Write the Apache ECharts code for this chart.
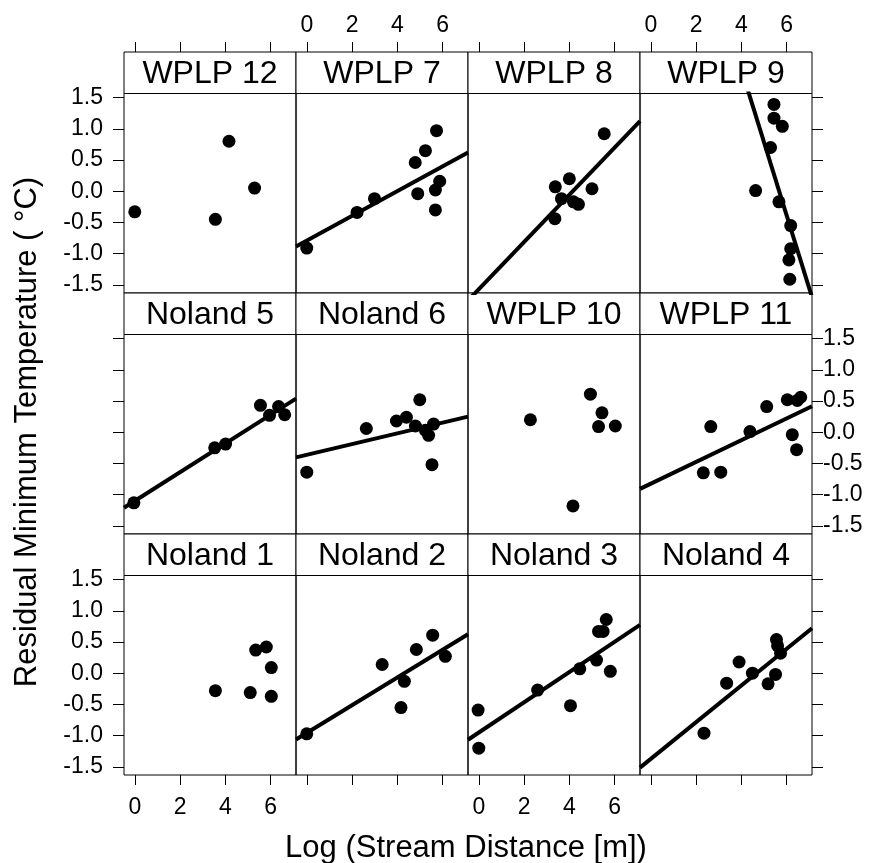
<!DOCTYPE html>
<html>
<head>
<meta charset="utf-8">
<script src="https://cdn.jsdelivr.net/npm/echarts@6/dist/echarts.min.js"></script>
<style>
  html, body { margin: 0; padding: 0; background: #fff; }
  #chart { width: 874px; height: 863px; }
</style>
</head>
<body>
<div id="chart"></div>
<script>
// panels in reading order (top row first)
const panelNames = ["WPLP 12", "WPLP 7", "WPLP 8", "WPLP 9",
	"Noland 5", "Noland 6", "WPLP 10", "WPLP 11",
	"Noland 1", "Noland 2", "Noland 3", "Noland 4"]

// [log stream distance, residual min temperature]
const wplp12 = [[0, -0.33], [3.56, -0.45], [4.16, 0.8], [5.29, 0.05]]
const wplp7 = [[0, -0.91], [2.22, -0.34], [2.99, -0.12], [4.79, 0.46], [5.24, 0.65],
	[4.9, -0.04], [5.73, 0.97], [5.87, 0.16], [5.68, 0.02], [5.68, -0.3]]
const wplp8 = [[5.54, 0.92], [4.0, 0.2], [3.38, 0.07], [5.0, 0.04], [3.65, -0.12],
	[4.18, -0.17], [4.4, -0.21], [3.36, -0.44]]
const wplp9 = [[5.44, 1.39], [5.44, 1.17], [5.81, 1.04], [5.29, 0.7], [4.63, 0.01],
	[5.66, -0.17], [6.18, -0.55], [6.18, -0.92], [6.1, -1.1], [6.14, -1.41]]
const noland5 = [[-0.04, -1.13], [3.53, -0.25], [4.01, -0.19], [5.55, 0.43],
	[5.95, 0.27], [6.35, 0.41], [6.62, 0.28]]
const noland6 = [[0, -0.64], [2.63, 0.06], [3.96, 0.18], [4.4, 0.24], [4.99, 0.52],
	[4.8, 0.1], [5.24, 0.03], [5.38, -0.05], [5.6, 0.13], [5.53, -0.52]]
const wplp10 = [[2.28, 0.2], [4.93, 0.61], [5.44, 0.31], [5.29, 0.09], [6.03, 0.1], [4.16, -1.18]]
const wplp11 = [[2.65, 0.09], [2.32, -0.65], [3.09, -0.64], [4.38, 0.01], [5.12, 0.41],
	[6.03, 0.52], [6.47, 0.51], [6.62, 0.56], [6.25, -0.04], [6.44, -0.28]]
const noland1 = [[3.56, -0.28], [5.1, -0.31], [5.34, 0.37], [5.81, 0.42], [6.03, 0.09], [6.03, -0.37]]
const noland2 = [[0, -0.97], [3.33, 0.14], [4.31, -0.13], [4.16, -0.55], [4.84, 0.38],
	[5.56, 0.61], [6.12, 0.27]]
const noland3 = [[-0.03, -0.59], [0, -1.2], [2.6, -0.27], [4.05, -0.52], [4.46, 0.07],
	[5.2, 0.21], [5.29, 0.67], [5.49, 0.67], [5.63, 0.86], [5.81, 0.03]]
const noland4 = [[2.35, -0.96], [3.35, -0.16], [3.9, 0.18], [4.49, 0.0], [5.18, -0.17],
	[5.51, -0.02], [5.55, 0.54], [5.6, 0.44], [5.73, 0.32]]

const panelPoints = [wplp12, wplp7, wplp8, wplp9, noland5, noland6, wplp10, wplp11,
	noland1, noland2, noland3, noland4]

// fitted lines, null where no line is drawn
const fitIntercept = [null, -0.79, -1.57, 6.64, -1.1, -0.362, null, -0.824, null, -0.957, -0.95, -1.372]
const fitSlope = [null, 0.198, 0.378, -1.171, 0.23, 0.086, null, 0.174, null, 0.222, 0.242, 0.294]

const xTicks = [0, 2, 4, 6]
const yTicks = [-1.5, -1.0, -0.5, 0.0, 0.5, 1.0, 1.5]
const xRange = [-0.476, 7.12]
const yRange = [-1.63, 1.565]

const font = "Liberation Sans"
const panelLeft = 124
const panelW = 172
const firstTop = 52
const stripH = 41.5
const plotH = 199.5
const rowH = stripH + plotH

const grids = []
const xAxes = []
const yAxes = []
const series = []
const graphics = []

panelNames.forEach((name, i) => {
	const row = Math.floor(i / 4)
	const col = i % 4
	const left = panelLeft + col * panelW
	const stripTop = firstTop + row * rowH
	grids.push({
		left: left,
		top: stripTop + stripH,
		width: panelW,
		height: plotH,
		show: true,
		borderColor: "#000",
		borderWidth: 1,
		backgroundColor: "transparent",
	})

	const isTop = row === 0
	const isBottom = row === 2
	const xLabels = (isTop && col % 2 === 1) || (isBottom && col % 2 === 0)
	xAxes.push({
		type: "value",
		gridIndex: i,
		min: xRange[0],
		max: xRange[1],
		show: isTop || isBottom,
		position: isTop ? "top" : "bottom",
		offset: isTop ? stripH : 0,
		splitLine: { show: false },
		axisLine: { show: false, onZero: false },
		axisTick: { show: true, length: 10, customValues: xTicks, lineStyle: { color: "#000", width: 1 } },
		axisLabel: {
			show: xLabels,
			customValues: xTicks,
			color: "#000",
			fontFamily: font,
			fontSize: 23,
			margin: isTop ? 15 : 21,
		},
	})

	const isLeft = col === 0
	const isRight = col === 3
	const yLabels = (isLeft && row !== 1) || (isRight && row === 1)
	yAxes.push({
		type: "value",
		gridIndex: i,
		min: yRange[0],
		max: yRange[1],
		show: isLeft || isRight,
		position: isRight ? "right" : "left",
		splitLine: { show: false },
		axisLine: { show: false, onZero: false },
		axisTick: { show: true, length: 11, customValues: yTicks, lineStyle: { color: "#000", width: 1 } },
		axisLabel: {
			show: yLabels,
			customValues: yTicks,
			color: "#000",
			fontFamily: font,
			fontSize: 23,
			margin: isRight ? 11 : 21,
			align: isRight ? "left" : "right",
			formatter: (v) => v.toFixed(1),
		},
	})

	series.push({
		type: "scatter",
		xAxisIndex: i,
		yAxisIndex: i,
		data: panelPoints[i],
		symbol: "circle",
		symbolSize: 13,
		itemStyle: { color: "#000", opacity: 1 },
		silent: true,
	})

	if (fitIntercept[i] !== null) {
		const a = fitIntercept[i]
		const b = fitSlope[i]
		series.push({
			type: "line",
			xAxisIndex: i,
			yAxisIndex: i,
			data: [[xRange[0], a + b * xRange[0]], [xRange[1], a + b * xRange[1]]],
			symbol: "none",
			clip: true,
			lineStyle: { color: "#000", width: 4 },
			silent: true,
		})
	}

	// strip with panel name
	graphics.push({
		type: "rect",
		shape: { x: left, y: stripTop, width: panelW, height: stripH },
		style: { fill: "#fff", stroke: "#000", lineWidth: 1 },
	})
	graphics.push({
		type: "text",
		x: left + panelW / 2,
		y: stripTop + stripH / 2 + 1,
		style: {
			text: name,
			fill: "#000",
			font: `32px "${font}"`,
			textAlign: "center",
			textVerticalAlign: "middle",
		},
	})
})

graphics.push({
	type: "text",
	x: 466,
	y: 848,
	style: {
		text: "Log (Stream Distance [m])",
		fill: "#000",
		font: `31px "${font}"`,
		textAlign: "center",
		textVerticalAlign: "middle",
	},
})
graphics.push({
	type: "text",
	x: 27,
	y: 432,
	rotation: Math.PI / 2,
	style: {
		text: "Residual Minimum Temperature ( °C)",
		fill: "#000",
		font: `31px "${font}"`,
		textAlign: "center",
		textVerticalAlign: "middle",
	},
})

const chart = echarts.init(document.getElementById("chart"), null, { renderer: "canvas" })
chart.setOption({
	animation: false,
	backgroundColor: "#fff",
	grid: grids,
	xAxis: xAxes,
	yAxis: yAxes,
	series: series,
	graphic: graphics,
})
</script>
</body>
</html>
